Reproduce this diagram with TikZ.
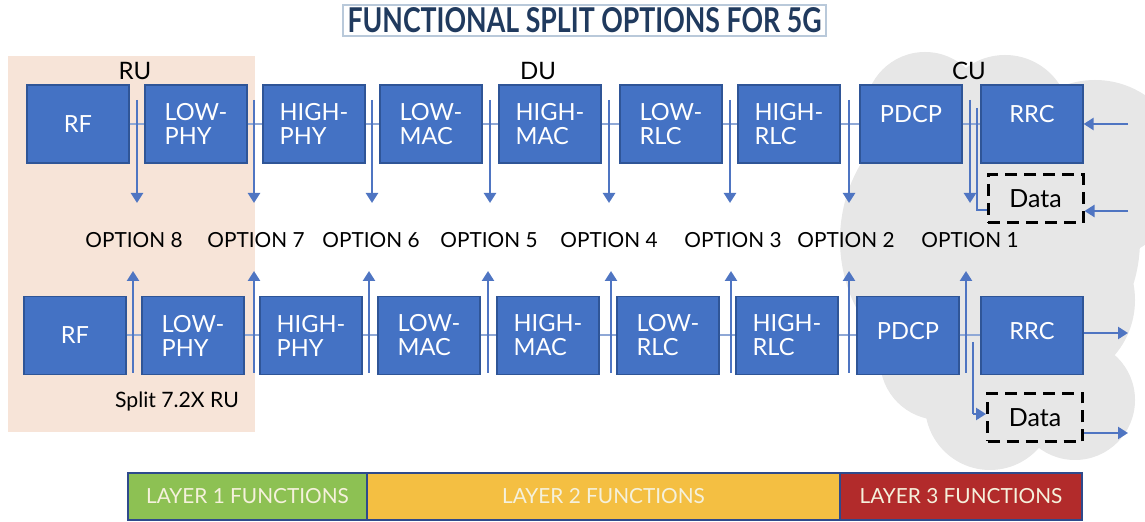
\documentclass[tikz,border=0pt]{standalone}
\usepackage{fontspec}
\setmainfont{Lato}
\usetikzlibrary{arrows.meta}
\definecolor{boxblue}{HTML}{4472C4}
\definecolor{boxedge}{HTML}{2F5597}
\definecolor{arrowblue}{HTML}{4F75C2}
\definecolor{linkblue}{HTML}{8FA8D6}
\definecolor{peach}{HTML}{F7E4D8}
\definecolor{cloudgrey}{HTML}{E7E7E7}
\definecolor{titlenavy}{HTML}{203A5E}
\definecolor{titleframe}{HTML}{B9C9DA}
\definecolor{lonegreen}{HTML}{8DC153}
\definecolor{ltwoyellow}{HTML}{F4BF42}
\definecolor{lthreered}{HTML}{B22B2B}
\definecolor{barnavy}{HTML}{2E4A8C}
\definecolor{bartext}{HTML}{F5F1DC}
\begin{document}
\begin{tikzpicture}[x=0.5pt,y=-0.5pt,
 fbox/.style={draw=boxedge, line width=0.6pt, fill=boxblue, text=white,
   minimum width=51pt, minimum height=39pt, inner sep=0pt, align=left,
   font=\fontsize{11.8}{12}\selectfont},
 link/.style={draw=linkblue, line width=1pt},
 splitarrow/.style={draw=arrowblue, line width=1.2pt, -{Triangle[width=6pt,length=5pt]}},
 plainlink/.style={draw=arrowblue, line width=1.2pt},
 optlabel/.style={font=\fontsize{10.4}{12}\selectfont, inner sep=0pt},
 headlabel/.style={font=\fontsize{12}{14}\selectfont, inner sep=0pt},
 datab/.style={draw=black, line width=1.5pt, dash pattern=on 6pt off 3.5pt,
   minimum width=47.5pt, minimum height=24pt, inner sep=0pt,
   font=\fontsize{12.5}{14}\selectfont},
 layerbox/.style={draw=barnavy, line width=1pt, minimum height=23.5pt, inner sep=0pt,
   text=bartext, font=\fontsize{10.4}{12}\selectfont},
]
\useasboundingbox (0,0) rectangle (1145,522);

% cloud behind CU
\begin{scope}
\clip (0,0) rectangle (1145,522);
\fill[cloudgrey] (990,240) circle[radius=75pt]
  (925,112) circle[radius=30pt]
  (1005,120) circle[radius=32.5pt]
  (1095,170) circle[radius=45pt]
  (1050,300) circle[radius=42.5pt]
  (940,360) circle[radius=30pt]
  (990,405) circle[radius=32.5pt]
  (1075,400) circle[radius=30pt];
\end{scope}

% RU background
\fill[peach] (8,56) rectangle (255,432);

% title
\node[draw=titleframe, line width=0.6pt, minimum width=241.5pt, minimum height=15.5pt, inner sep=0pt, text=titlenavy] (title) at (584.5,20.5)
  {\resizebox{237pt}{12.5pt}{\bfseries FUNCTIONAL SPLIT OPTIONS FOR 5G}};

% headers
\node[headlabel] (ru) at (135,71) {RU};
\node[headlabel] (du) at (538,71) {DU};
\node[headlabel] (cu) at (969,71) {CU};

% top row
\node[fbox] (t1) at (78,124) {RF};
\node[fbox] (t2) at (196,124) {LOW-\\PHY};
\node[fbox] (t3) at (314,124) {HIGH-\\PHY};
\node[fbox] (t4) at (431,124) {LOW-\\MAC};
\node[fbox] (t5) at (550,124) {HIGH-\\MAC};
\node[fbox] (t6) at (671,124) {LOW-\\RLC};
\node[fbox] (t7) at (789,124) {HIGH-\\RLC};
\node[fbox] (t8) at (911,124) {\raisebox{5pt}[0.72em][0pt]{PDCP}};
\node[fbox] (t9) at (1032,124) {\raisebox{5pt}[0.72em][0pt]{RRC}};

% bottom row
\node[fbox] (b1) at (75,335.5) {RF};
\node[fbox] (b2) at (193,335.5) {LOW-\\PHY};
\node[fbox] (b3) at (311,335.5) {HIGH-\\PHY};
\node[fbox] (b4) at (429,335.5) {LOW-\\MAC};
\node[fbox] (b5) at (548,335.5) {HIGH-\\MAC};
\node[fbox] (b6) at (668,335.5) {LOW-\\RLC};
\node[fbox] (b7) at (787,335.5) {HIGH-\\RLC};
\node[fbox] (b8) at (908,335.5) {\raisebox{2pt}[0.72em][0pt]{PDCP}};
\node[fbox] (b9) at (1032,335.5) {\raisebox{2pt}[0.72em][0pt]{RRC}};

% links between boxes
\foreach \a/\b in {1/2,2/3,3/4,4/5,5/6,6/7,7/8,8/9}{
  \draw[link] (t\a.east) -- (t\b.west);
  \draw[link] (b\a.east) -- (b\b.west);
}

% data boxes
\node[datab] (dt) at (1035.5,199) {Data};
\node[datab] (db) at (1035,417.5) {Data};

% option labels
\foreach \x/\n in {134/8,256/7,371/6,489/5,609/4,733/3,846/2,970/1}{
  \node[optlabel] (opt\n) at (\x,240.5) {OPTION \n};
}

% split arrows, top row (down)
\foreach \x [count=\i] in {137,254,372,490,609,730,849,970}{
  \coordinate (ds\i) at (\x,100);
  \coordinate (de\i) at (\x,203);
  \draw[splitarrow] (ds\i) -- (de\i);
}
% split arrows, bottom row (up)
\foreach \x [count=\i] in {133,254,369,488,611,731,849,966}{
  \coordinate (us\i) at (\x,373);
  \coordinate (ue\i) at (\x,271);
  \draw[splitarrow] (us\i) -- (ue\i);
}

% option 1 branches to data
\coordinate (obt) at (977,108);
\coordinate (obc) at (977,210);
\draw[plainlink] (obt) -- (obc) -- (obc -| dt.west);
\coordinate (oub) at (973,342);
\coordinate (ouc) at (973,414);
\draw[plainlink] (oub) -- (ouc);
\draw[splitarrow] (ouc) -- (ouc -| db.west);

% external arrows, top (incoming)
\coordinate (inr) at (1128,124);
\coordinate (ind) at (1128,211);
\draw[splitarrow] (inr) -- (t9.east);
\draw[splitarrow] (ind) -- (ind -| dt.east);
% external arrows, bottom (outgoing)
\coordinate (outr) at (1128,333);
\coordinate (outd) at (1128,433);
\draw[splitarrow] (outr -| b9.east) -- (outr);
\draw[splitarrow] (outd -| db.east) -- (outd);

% split label
\node[font=\fontsize{10.6}{12}\selectfont, inner sep=0pt] (split) at (177,402) {Split 7.2X RU};

% layer bar
\node[layerbox, fill=lonegreen, minimum width=119.5pt] (l1) at (247.5,496.5) {LAYER 1 FUNCTIONS};
\node[layerbox, fill=ltwoyellow, minimum width=236.5pt] (l2) at (603.5,496.5) {LAYER 2 FUNCTIONS};
\node[layerbox, fill=lthreered, minimum width=121pt] (l3) at (961,496.5) {LAYER 3 FUNCTIONS};
\end{tikzpicture}
\end{document}
